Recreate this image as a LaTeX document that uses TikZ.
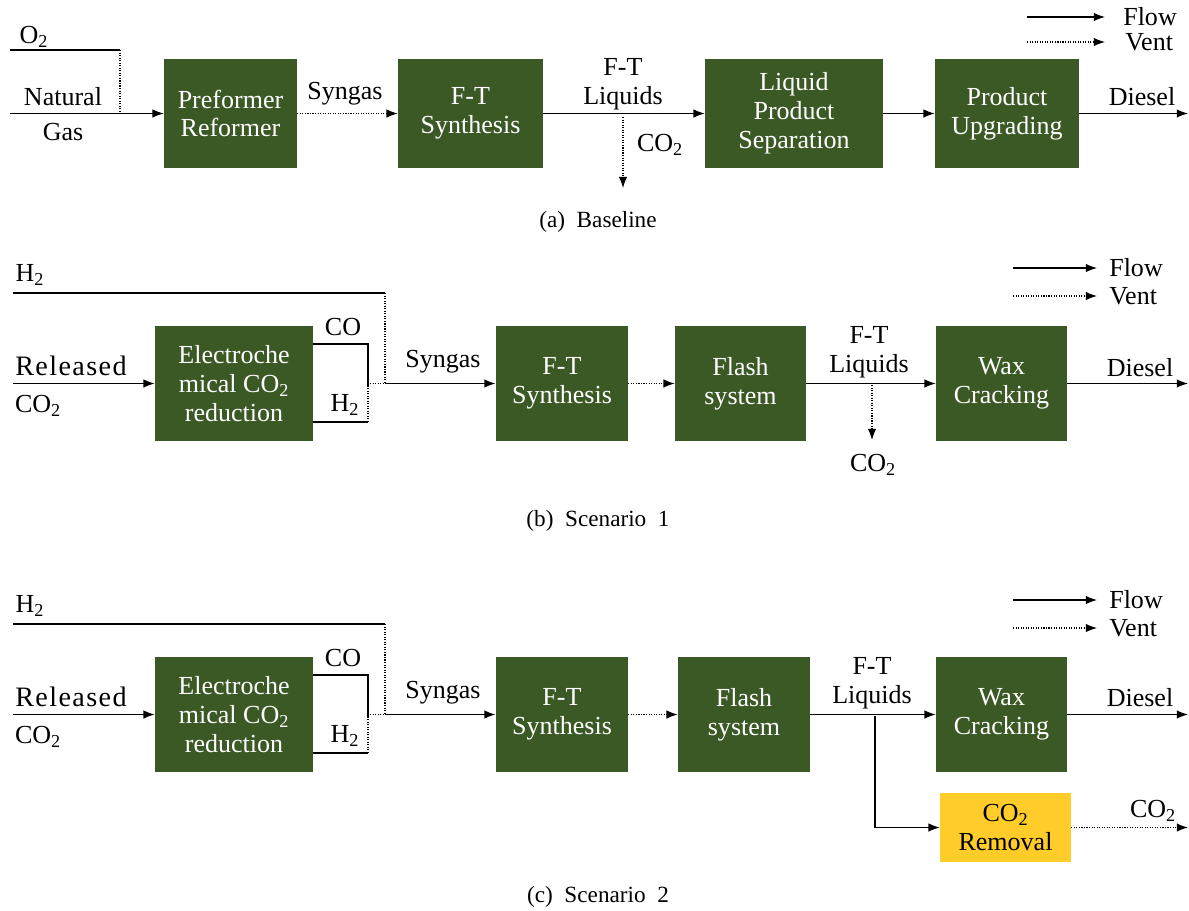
\documentclass[tikz,border=0pt]{standalone}
\usepackage{fontspec}
\setmainfont{Liberation Serif}
\usetikzlibrary{arrows.meta}
\definecolor{unitgreen}{RGB}{59,89,37}
\definecolor{unityellow}{RGB}{255,204,41}
\newcommand{\two}{\textsubscript{2}}

\begin{document}
\begin{tikzpicture}[x=0.025cm,y=-0.025cm,
  unit/.style={fill=unitgreen,text=white,align=center,inner sep=0pt,
    font=\fontsize{18.5}{20.5}\selectfont},
  sepunit/.style={unit,fill=unityellow,text=black},
  unitsize/.style 2 args={minimum width=#1*0.25mm,minimum height=#2*0.25mm},
  lbl/.style={inner sep=0pt,align=center,font=\fontsize{18.5}{20.5}\selectfont},
  widelbl/.style={lbl,font=\fontsize{20}{22}\selectfont\addfontfeatures{LetterSpace=5}},
  captext/.style={inner sep=0pt,font=\fontsize{16.5}{18}\selectfont},
  flowline/.style={line width=0.8pt},
  ventline/.style={line width=0.8pt,densely dotted},
  flow/.style={flowline,-{Latex[length=8pt,width=6pt]}},
  vent/.style={ventline,-{Latex[length=8pt,width=6pt]}}]
\useasboundingbox (0,0) rectangle (1189,910);

% (a) Baseline
\coordinate (o2a) at (10,50);
\coordinate (o2j) at (120,50);
\coordinate (nga) at (10,113.5);
\coordinate (o2m) at (120,113.5);
\coordinate (co2a) at (623,117);
\coordinate (co2b) at (623,188);
\coordinate (dsla) at (1188,113.5);
\node[unit,unitsize={133}{109}] (prea) at (230.5,113.5) {Preformer\\Reformer};
\node[unit,unitsize={145}{109}] (ftsa) at (470.5,113.5) {F-T\\Synthesis};
\node[unit,unitsize={178}{109}] (lpsa) at (794,113.5) {Liquid\\Product\\Separation};
\node[unit,unitsize={144}{109}] (pupa) at (1007,113.5) {Product\\Upgrading};
\node[lbl] (lo2a) at (34,37) {O\two};
\node[lbl] (lnat) at (63,97) {Natural};
\node[lbl] (lgas) at (63,132) {Gas};
\node[lbl] (lsyna) at (345,94) {Syngas};
\node[lbl] (lfta) at (623,84) {F-T\\Liquids};
\node[lbl] (lco2a) at (660,145) {CO\two};
\node[lbl] (ldsla) at (1142,97) {Diesel};
\draw[flowline] (o2a) -- (o2j);
\draw[ventline] (o2j) -- (o2m);
\draw[flow] (nga) -- (nga -| prea.west);
\draw[vent] (prea) -- (ftsa);
\draw[flow] (ftsa) -- (lpsa);
\draw[vent] (co2a) -- (co2b);
\draw[flow] (lpsa) -- (pupa);
\draw[flow] (pupa) -- (dsla);
% legend
\coordinate (fla1) at (1027,17);
\coordinate (fla2) at (1105,17);
\coordinate (vta1) at (1027,42);
\coordinate (vta2) at (1105,42);
\draw[flow] (fla1) -- (fla2);
\draw[vent] (vta1) -- (vta2);
\node[lbl,anchor=west] (lfla) at (1123,17) {Flow};
\node[lbl,anchor=west] (lvta) at (1125,42) {Vent};
\node[captext] (capa) at (598,222) {(a)\ \ Baseline};

% (b) Scenario 1
\coordinate (h2b) at (13,293);
\coordinate (h2bj) at (385,293);
\coordinate (synb) at (385,383.5);
\coordinate (relb) at (13,383.5);
\coordinate (cob) at (368,344);
\coordinate (h2lb) at (368,422);
\coordinate (mixb) at (368,383.5);
\coordinate (co2b1) at (872,385);
\coordinate (co2b2) at (872,440);
\coordinate (dslb) at (1188,383.5);
\node[unit,unitsize={158}{115}] (ecrb) at (234,383.5) {Electroche\\mical CO\two\\reduction};
\node[unit,unitsize={132}{115}] (ftsb) at (562,383.5) {F-T\\Synthesis};
\node[unit,unitsize={131}{115}] (flsb) at (740.5,383.5) {Flash\\system};
\node[unit,unitsize={131}{115}] (wxcb) at (1001.5,383.5) {Wax\\Cracking};
\node[lbl] (lh2b) at (30,275) {H\two};
\node[widelbl,anchor=west] (lrelb) at (15,366) {Released};
\node[lbl] (lco2b) at (38,406) {CO\two};
\node[lbl] (lcob) at (343,327) {CO};
\node[lbl] (lh2lb) at (345,405) {H\two};
\node[lbl] (lsynb) at (443,362) {Syngas};
\node[lbl] (lftb) at (869,352) {F-T\\Liquids};
\node[lbl] (lvco2b) at (873,465) {CO\two};
\node[lbl] (ldslb) at (1140,368) {Diesel};
\draw[flowline] (h2b) -- (h2bj);
\draw[ventline] (h2bj) -- (synb);
\draw[flow] (relb) -- (ecrb);
\draw[flowline] (ecrb.east |- cob) -- (cob) -- (mixb);
\draw[flowline] (ecrb.east |- h2lb) -- (h2lb);
\draw[ventline] (h2lb) -- (mixb) -- (synb);
\draw[flow,line width=1.3pt] (synb) -- (ftsb);
\draw[vent] (ftsb) -- (flsb);
\draw[flow] (flsb) -- (wxcb);
\draw[vent] (co2b1) -- (co2b2);
\draw[flow] (wxcb) -- (dslb);
% legend
\coordinate (flb1) at (1013,268);
\coordinate (flb2) at (1097,268);
\coordinate (vtb1) at (1013,296);
\coordinate (vtb2) at (1097,296);
\draw[flow] (flb1) -- (flb2);
\draw[vent] (vtb1) -- (vtb2);
\node[lbl,anchor=west] (lflb) at (1109,268) {Flow};
\node[lbl,anchor=west] (lvtb) at (1109,296) {Vent};
\node[captext] (capb) at (598,521) {(b)\ \ Scenario\ \ 1};

% (c) Scenario 2
\coordinate (h2c) at (13,624);
\coordinate (h2cj) at (385,624);
\coordinate (sync) at (385,714.5);
\coordinate (relc) at (13,714.5);
\coordinate (coc) at (368,675);
\coordinate (h2lc) at (368,753);
\coordinate (mixc) at (368,714.5);
\coordinate (brc1) at (875,716);
\coordinate (brc2) at (875,827.5);
\coordinate (co2c) at (1188,827.5);
\coordinate (dslc) at (1188,714.5);
\node[unit,unitsize={158}{115}] (ecrc) at (234,714.5) {Electroche\\mical CO\two\\reduction};
\node[unit,unitsize={132}{115}] (ftsc) at (562,714.5) {F-T\\Synthesis};
\node[unit,unitsize={132}{115}] (flsc) at (744,714.5) {Flash\\system};
\node[unit,unitsize={131}{115}] (wxcc) at (1001.5,714.5) {Wax\\Cracking};
\node[sepunit,unitsize={131}{69}] (rmvc) at (1005.5,827.5) {CO\two\\Removal};
\node[lbl] (lh2c) at (30,606) {H\two};
\node[widelbl,anchor=west] (lrelc) at (15,697) {Released};
\node[lbl] (lco2c) at (38,737) {CO\two};
\node[lbl] (lcoc) at (343,658) {CO};
\node[lbl] (lh2lc) at (345,736) {H\two};
\node[lbl] (lsync) at (443,693) {Syngas};
\node[lbl] (lftc) at (872,683) {F-T\\Liquids};
\node[lbl] (ldslc) at (1140,698) {Diesel};
\node[lbl] (lvco2c) at (1153,811) {CO\two};
\draw[flowline] (h2c) -- (h2cj);
\draw[ventline] (h2cj) -- (sync);
\draw[flow] (relc) -- (ecrc);
\draw[flowline] (ecrc.east |- coc) -- (coc) -- (mixc);
\draw[flowline] (ecrc.east |- h2lc) -- (h2lc);
\draw[ventline] (h2lc) -- (mixc) -- (sync);
\draw[flow,line width=1.3pt] (sync) -- (ftsc);
\draw[vent] (ftsc) -- (flsc);
\draw[flow] (flsc) -- (wxcc);
\draw[flow] (brc1) -- (brc2) -- (rmvc);
\draw[vent] (rmvc) -- (co2c);
\draw[flow] (wxcc) -- (dslc);
% legend
\coordinate (flc1) at (1013,600);
\coordinate (flc2) at (1097,600);
\coordinate (vtc1) at (1013,628);
\coordinate (vtc2) at (1097,628);
\draw[flow] (flc1) -- (flc2);
\draw[vent] (vtc1) -- (vtc2);
\node[lbl,anchor=west] (lflc) at (1109,600) {Flow};
\node[lbl,anchor=west] (lvtc) at (1109,628) {Vent};
\node[captext] (capc) at (598,897) {(c)\ \ Scenario\ \ 2};
\end{tikzpicture}
\end{document}
